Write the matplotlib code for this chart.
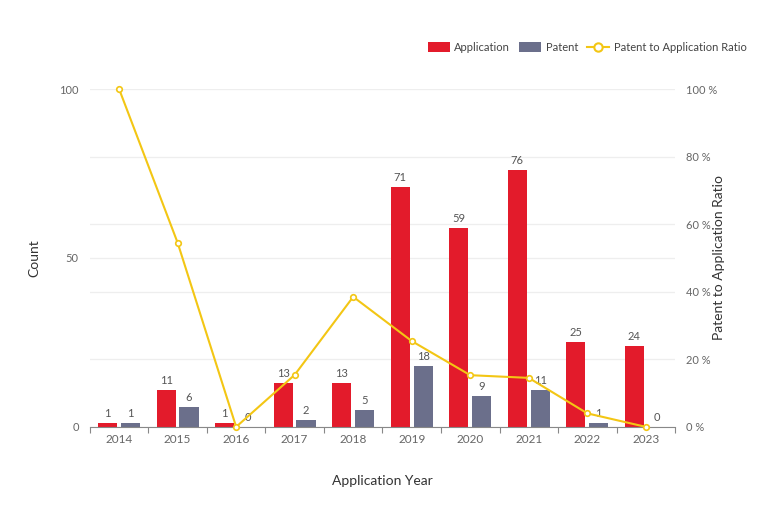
import matplotlib.pyplot as plt
import numpy as np
from matplotlib.lines import Line2D
from matplotlib.patches import Patch

# --- DATA ---
years = ['2014', '2015', '2016', '2017', '2018', '2019', '2020', '2021', '2022', '2023']
applications = [1, 11, 1, 13, 13, 71, 59, 76, 25, 24]
patents = [1, 6, 0, 2, 5, 18, 9, 11, 1, 0]
ratio_pct = [100, 54.5, 0, 15.4, 38.5, 25.4, 15.3, 14.5, 4.0, 0]

RED = '#e31b2b'
GREY_BLUE = '#6b6f8b'
YELLOW = '#f3c614'
TEXT = '#666666'
GRID = '#eeeeee'

plt.rcParams['font.family'] = ['Lato', 'DejaVu Sans']

fig = plt.figure(figsize=(7.68, 5.27), dpi=100)
ax = fig.add_axes([0.117, 0.190, 0.762, 0.641])
ax2 = ax.twinx()

x = np.arange(len(years))
w = 0.33
off = 0.196

ax.bar(x - off, applications, w, color=RED, zorder=2)
ax.bar(x + off, patents, w, color=GREY_BLUE, zorder=2)

for xi, a, p in zip(x, applications, patents):
    ax.text(xi - off, a + 1.2, str(a), ha='center', va='bottom', fontsize=8, color='#555555')
    ax.text(xi + off, p + 1.2, str(p), ha='center', va='bottom', fontsize=8, color='#555555')

ax.set_xlim(-0.5, len(years) - 0.5)
ax.set_ylim(0, 100)
ax.set_yticks([0, 50, 100])
ax.set_yticks([20, 40, 60, 80], minor=True)
ax.grid(axis='y', which='both', color=GRID, linewidth=0.9, zorder=0)
ax.set_axisbelow(True)
ax.tick_params(axis='y', which='both', length=0, labelsize=8, labelcolor=TEXT, pad=8)

ax.set_xticks(x)
ax.set_xticklabels(years)
ax.set_xticks(np.arange(-0.5, len(years)), minor=True)
ax.tick_params(axis='x', which='major', length=0, labelsize=8.5, labelcolor=TEXT, pad=5)
ax.tick_params(axis='x', which='minor', length=4, color='#888888', width=0.8)

for s in ['top', 'left', 'right']:
    ax.spines[s].set_visible(False)
    ax2.spines[s].set_visible(False)
ax.spines['bottom'].set_color('#888888')
ax2.spines['bottom'].set_visible(False)

ax2.plot(x, ratio_pct, color=YELLOW, linewidth=1.5, marker='o', markersize=4,
         markerfacecolor='white', markeredgecolor=YELLOW, markeredgewidth=1.2, zorder=5,
         clip_on=False)
ax2.set_ylim(0, 100)
ax2.set_yticks([0, 20, 40, 60, 80, 100])
ax2.set_yticklabels([f'{v} %' for v in [0, 20, 40, 60, 80, 100]])
ax2.tick_params(axis='y', length=0, labelsize=8, labelcolor=TEXT, pad=8)
ax2.set_ylabel('Patent to Application Ratio', fontsize=10, color='#333333')
ax2.yaxis.set_label_coords(1.065, 0.5)

ax.set_xlabel('Application Year', fontsize=10, color='#333333', labelpad=22)
ax.set_ylabel('Count', fontsize=10, color='#333333')
ax.yaxis.set_label_coords(-0.085, 0.5)

handles = [
    Patch(facecolor=RED, edgecolor='none'),
    Patch(facecolor=GREY_BLUE, edgecolor='none'),
    Line2D([0], [0], color=YELLOW, linewidth=1.5, marker='o', markersize=6,
           markerfacecolor='white', markeredgecolor=YELLOW, markeredgewidth=1.5),
]
fig.legend(handles, ['Application', 'Patent', 'Patent to Application Ratio'],
           loc='center right', bbox_to_anchor=(0.985, 0.91), ncol=3, frameon=False,
           fontsize=8, labelcolor='#444444', handlelength=2.0, handleheight=1.0,
           columnspacing=0.8, handletextpad=0.4)

fig.savefig('out.png', dpi=100)
